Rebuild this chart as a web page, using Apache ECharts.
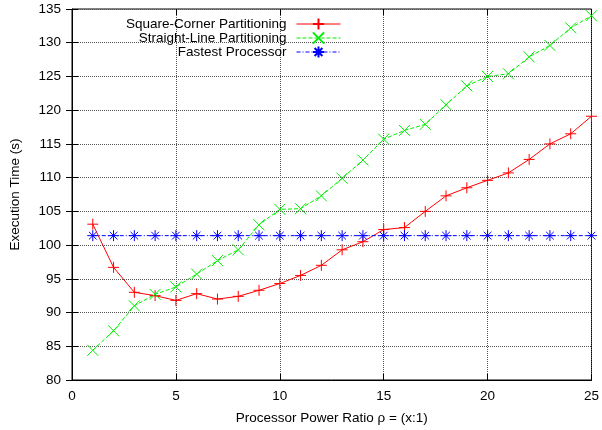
<!DOCTYPE html>
<html>
<head>
<meta charset="utf-8">
<script src="https://cdn.jsdelivr.net/npm/echarts@6/dist/echarts.min.js"></script>
<style>
  html, body { margin: 0; padding: 0; background: #fff; }
  #chart { width: 602px; height: 430px; }
</style>
</head>
<body>
<div id="chart"></div>
<script>
const ratios = [1, 2, 3, 4, 5, 6, 7, 8, 9, 10, 11, 12, 13, 14, 15, 16, 17, 18, 19, 20, 21, 22, 23, 24, 25];
const squareCorner = [103.1, 96.7, 93.0, 92.5, 91.8, 92.8, 92.0, 92.4, 93.3, 94.3, 95.5, 97.0, 99.3, 100.5, 102.3, 102.6, 105.0, 107.3, 108.5, 109.6, 110.7, 112.7, 115.0, 116.5, 119.1];
const straightLine = [84.4, 87.3, 91.0, 92.7, 93.8, 95.7, 97.7, 99.3, 103.0, 105.3, 105.4, 107.3, 109.9, 112.6, 115.7, 117.0, 117.9, 120.8, 123.6, 125.0, 125.4, 127.9, 129.6, 132.2, 134.0];
const fastest = [101.4, 101.4, 101.4, 101.4, 101.4, 101.4, 101.4, 101.4, 101.4, 101.4, 101.4, 101.4, 101.4, 101.4, 101.4, 101.4, 101.4, 101.4, 101.4, 101.4, 101.4, 101.4, 101.4, 101.4, 101.4];

const FONT = "'Liberation Sans', Arial, sans-serif";
const FS = 13.5;
const plusPath = "path://M0,5L10,5M5,0L5,10";
const crossPath = "path://M0,0L10,10M10,0L0,10";
const starPath = "path://M0,5L10,5M5,0L5,10M1.5,1.5L8.5,8.5M8.5,1.5L1.5,8.5";

const pairs = (ys) => ratios.map((x, i) => [x, ys[i]]);

const lineSeries = (name, ys, color, symbol, size, lineType) => ({
  name,
  type: "line",
  data: pairs(ys),
  symbol,
  symbolSize: size,
  showAllSymbol: true,
  itemStyle: { color, borderColor: color, borderWidth: 1 },
  lineStyle: { color, width: 1, type: lineType },
  animation: false,
});

const chart = echarts.init(document.getElementById("chart"));

chart.setOption({
  backgroundColor: "#fff",
  textStyle: { fontFamily: FONT },
  grid: {
    left: 70, right: 8, top: 9, bottom: 47,
    show: true, borderColor: "#000", borderWidth: 1,
  },
  legend: {
    orient: "vertical",
    align: "right",
    right: 256,
    top: 12,
    itemWidth: 44,
    itemHeight: 14,
    itemGap: 0,
    lineStyle: { width: 1 },
    textStyle: { fontFamily: FONT, fontSize: FS, color: "#000", padding: [0, 5, 0, 0] },
    data: ["Square-Corner Partitioning", "Straight-Line Partitioning", "Fastest Processor"],
  },
  xAxis: [
    {
      type: "value", min: 0, max: 25, interval: 5,
      name: "Processor Power Ratio \u03c1 = (x:1)",
      nameLocation: "middle", nameGap: 31,
      nameTextStyle: { fontFamily: FONT, fontSize: FS, color: "#000" },
      axisLine: { lineStyle: { color: "#000" } },
      axisTick: { inside: true, length: 6, lineStyle: { color: "#000" } },
      axisLabel: { fontFamily: FONT, fontSize: FS, color: "#000", margin: 9 },
      splitLine: { show: true, lineStyle: { color: "#555", type: "dotted", width: 1 } },
    },
    {
      type: "value", min: 0, max: 25, interval: 5, position: "top",
      axisLine: { show: false },
      axisTick: { inside: true, length: 6, lineStyle: { color: "#000" } },
      axisLabel: { show: false },
      splitLine: { show: false },
    },
  ],
  yAxis: [
    {
      type: "value", min: 80, max: 135, interval: 5,
      name: "Execution Time (s)",
      nameLocation: "middle", nameGap: 50,
      nameTextStyle: { fontFamily: FONT, fontSize: FS, color: "#000" },
      axisLine: { show: true, lineStyle: { color: "#000" } },
      axisTick: { show: true, inside: true, length: 6, lineStyle: { color: "#000" } },
      axisLabel: { fontFamily: FONT, fontSize: FS, color: "#000", margin: 11 },
      splitLine: { show: true, lineStyle: { color: "#555", type: "dotted", width: 1 } },
    },
    {
      type: "value", min: 80, max: 135, interval: 5, position: "right",
      axisLine: { show: false },
      axisTick: { show: true, inside: true, length: 6, lineStyle: { color: "#000" } },
      axisLabel: { show: false },
      splitLine: { show: false },
    },
  ],
  series: [
    lineSeries("Square-Corner Partitioning", squareCorner, "#ff0000", plusPath, 11, "solid"),
    lineSeries("Straight-Line Partitioning", straightLine, "#00ee00", crossPath, 11, [4, 2]),
    lineSeries("Fastest Processor", fastest, "#0000ff", starPath, 11, [4, 2, 1, 2]),
  ],
});
</script>
</body>
</html>
